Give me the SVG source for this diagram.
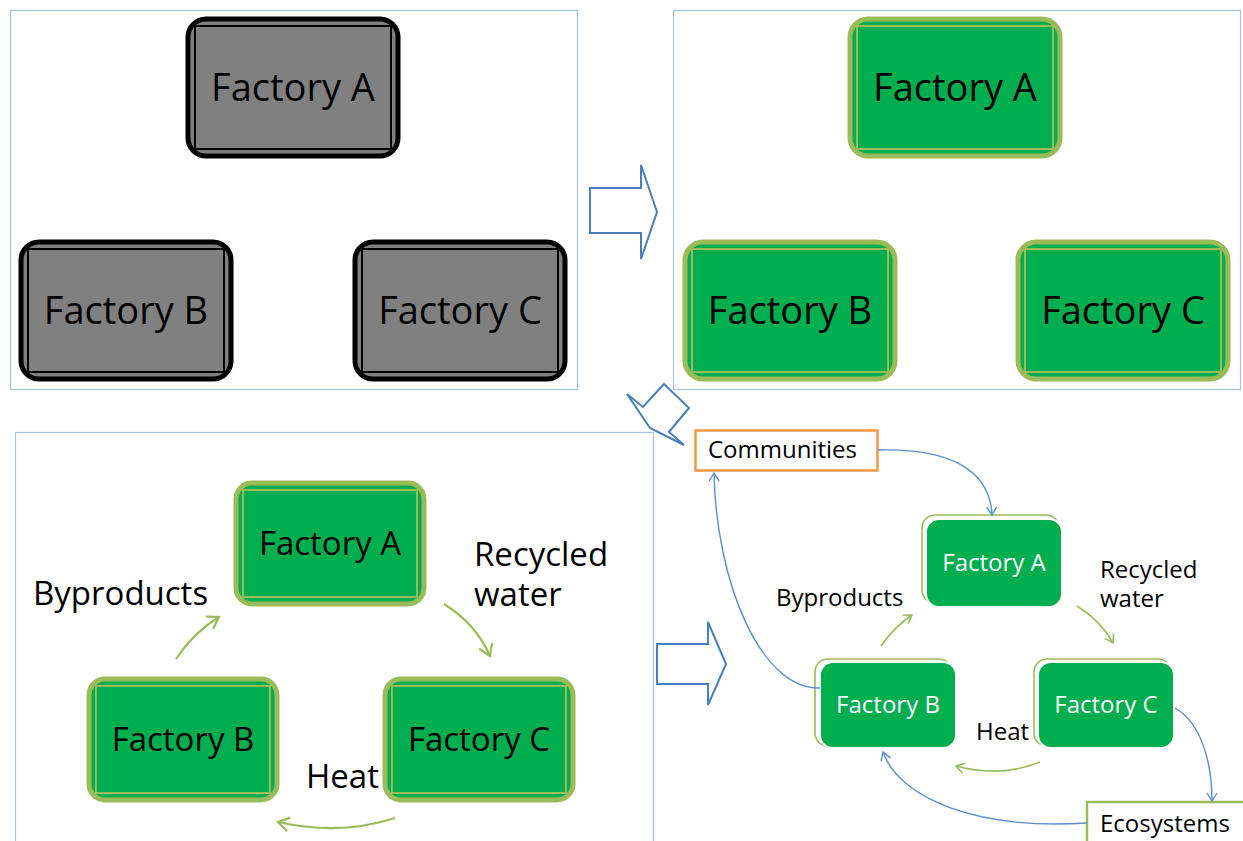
<svg xmlns="http://www.w3.org/2000/svg" width="1243" height="841" viewBox="0 0 1243 841">
  <style>
    .panel { fill: #ffffff; stroke: #a9bfe3; stroke-width: 1.2; }
    .gray-outer { fill: #808080; stroke: #000000; stroke-width: 5; }
    .gray-inner { fill: none; stroke: #000000; stroke-width: 2; }
    .green-outer { fill: #00ad4f; stroke: #9bbb59; stroke-width: 5; }
    .green-inner { fill: none; stroke: #9bbb59; stroke-width: 2; }
    .big { font-family: "Open Sans", "Liberation Sans", sans-serif; font-size: 38px; fill: #000000; text-anchor: middle; }
    .mid { font-family: "Open Sans", "Liberation Sans", sans-serif; font-size: 33px; fill: #000000; text-anchor: middle; }
    .lbl-mid { font-family: "Open Sans", "Liberation Sans", sans-serif; font-size: 33px; fill: #000000; }
    .small-node-shadow { fill: none; stroke: #9bbb59; stroke-width: 1.6; }
    .small-node { fill: #00ad4f; stroke: #ffffff; stroke-width: 2; }
    .small-txt { font-family: "Open Sans", "Liberation Sans", sans-serif; font-size: 24px; fill: #ffffff; text-anchor: middle; }
    .lbl-small { font-family: "Open Sans", "Liberation Sans", sans-serif; font-size: 24px; fill: #000000; }
    .block-arrow { fill: #ffffff; stroke: #4a7ebb; stroke-width: 2; stroke-linejoin: miter; }
    .blue { fill: none; stroke: #5b8ccc; stroke-width: 1.4; }
    .green-thin { fill: none; stroke: #9bbb59; stroke-width: 1.6; }
    .green-thick { fill: none; stroke: #9bbb59; stroke-width: 2.2; }
  </style>
  <defs>
    <marker id="arrow-blue" markerUnits="userSpaceOnUse" markerWidth="14" markerHeight="14" refX="0" refY="0" viewBox="-10 -7 12 14" orient="auto">
      <path d="M-8,-5 L0,0 L-8,5" fill="none" stroke="#5b8ccc" stroke-width="1.4"/>
    </marker>
    <marker id="arrow-green" markerUnits="userSpaceOnUse" markerWidth="14" markerHeight="14" refX="0" refY="0" viewBox="-10 -7 12 14" orient="auto">
      <path d="M-8,-5 L0,0 L-8,5" fill="none" stroke="#9bbb59" stroke-width="1.6"/>
    </marker>
    <marker id="arrow-green-big" markerUnits="userSpaceOnUse" markerWidth="18" markerHeight="18" refX="0" refY="0" viewBox="-13 -9 15 18" orient="auto">
      <path d="M-11,-7 L0,0 L-11,7" fill="none" stroke="#9bbb59" stroke-width="2.2"/>
    </marker>
  </defs>

  <!-- panels -->
  <g id="panels">
    <rect class="panel" x="10.5" y="10.5" width="567" height="379"/>
    <rect class="panel" x="673.5" y="10.5" width="567" height="379"/>
    <rect class="panel" x="15.5" y="432.5" width="638" height="420"/>
  </g>

  <!-- stage 1: separate factories -->
  <g id="s1-factory-a">
    <rect class="gray-outer" x="188" y="19" width="210" height="137" rx="18"/>
    <rect class="gray-inner" x="195" y="26" width="196" height="123"/>
    <text class="big" x="293" y="101">Factory A</text>
  </g>
  <g id="s1-factory-b">
    <rect class="gray-outer" x="21" y="242" width="210" height="137" rx="18"/>
    <rect class="gray-inner" x="28" y="249" width="196" height="123"/>
    <text class="big" x="126" y="324">Factory B</text>
  </g>
  <g id="s1-factory-c">
    <rect class="gray-outer" x="355" y="242" width="210" height="137" rx="18"/>
    <rect class="gray-inner" x="362" y="249" width="196" height="123"/>
    <text class="big" x="460" y="324">Factory C</text>
  </g>

  <!-- stage 2: green factories -->
  <g id="s2-factory-a">
    <rect class="green-outer" x="850" y="19" width="210" height="137" rx="18"/>
    <rect class="green-inner" x="857" y="26" width="196" height="123"/>
    <text class="big" x="955" y="101">Factory A</text>
  </g>
  <g id="s2-factory-b">
    <rect class="green-outer" x="685" y="242" width="210" height="137" rx="18"/>
    <rect class="green-inner" x="692" y="249" width="196" height="123"/>
    <text class="big" x="790" y="324">Factory B</text>
  </g>
  <g id="s2-factory-c">
    <rect class="green-outer" x="1018" y="242" width="210" height="137" rx="18"/>
    <rect class="green-inner" x="1025" y="249" width="196" height="123"/>
    <text class="big" x="1123" y="324">Factory C</text>
  </g>

  <!-- stage 3: exchange between factories -->
  <g id="s3-factory-a">
    <rect class="green-outer" x="236" y="483" width="188" height="121" rx="16"/>
    <rect class="green-inner" x="243" y="490" width="174" height="107"/>
    <text class="mid" x="330" y="555">Factory A</text>
  </g>
  <g id="s3-factory-b">
    <rect class="green-outer" x="89" y="679" width="188" height="121" rx="16"/>
    <rect class="green-inner" x="96" y="686" width="174" height="107"/>
    <text class="mid" x="183" y="751">Factory B</text>
  </g>
  <g id="s3-factory-c">
    <rect class="green-outer" x="385" y="679" width="188" height="121" rx="16"/>
    <rect class="green-inner" x="392" y="686" width="174" height="107"/>
    <text class="mid" x="479" y="751">Factory C</text>
  </g>
  <g id="s3-labels">
    <text class="lbl-mid" x="33" y="605">Byproducts</text>
    <text class="lbl-mid" x="474" y="566">Recycled<tspan x="474" dy="40">water</tspan></text>
    <text class="lbl-mid" x="306" y="788">Heat</text>
  </g>

  <!-- stage 4: factories with communities and ecosystems -->
  <g id="s4-communities">
    <rect x="695.5" y="430.5" width="182" height="40" fill="#ffffff" stroke="#f79646" stroke-width="2.5"/>
    <text class="lbl-small" x="708" y="458">Communities</text>
  </g>
  <g id="s4-factory-a">
    <rect class="small-node-shadow" x="922" y="515" width="137" height="88" rx="13"/>
    <rect class="small-node" x="926" y="519" width="136" height="88" rx="13"/>
    <text class="small-txt" x="994" y="571">Factory A</text>
  </g>
  <g id="s4-factory-b">
    <rect class="small-node-shadow" x="815" y="659" width="137" height="87" rx="13"/>
    <rect class="small-node" x="820" y="662" width="136" height="86" rx="13"/>
    <text class="small-txt" x="888" y="713">Factory B</text>
  </g>
  <g id="s4-factory-c">
    <rect class="small-node-shadow" x="1034" y="659" width="137" height="87" rx="13"/>
    <rect class="small-node" x="1038" y="662" width="136" height="86" rx="13"/>
    <text class="small-txt" x="1106" y="713">Factory C</text>
  </g>
  <g id="s4-ecosystems">
    <rect x="1087" y="802" width="170" height="60" fill="#ffffff" stroke="#9bbb59" stroke-width="2.5"/>
    <text class="lbl-small" x="1100" y="832">Ecosystems</text>
  </g>
  <g id="s4-labels">
    <text class="lbl-small" x="776" y="606">Byproducts</text>
    <text class="lbl-small" x="1100" y="578">Recycled<tspan x="1100" dy="29">water</tspan></text>
    <text class="lbl-small" x="976" y="740">Heat</text>
  </g>

  <!-- connectors -->
  <g id="connectors">
    <!-- block arrows between stages -->
    <polygon class="block-arrow" points="590,188 641,188 641,165 657,212 641,259 641,233 590,233"/>
    <polygon class="block-arrow" points="664,384 689,408 669,432 684,445 650,428 627,394 643,407"/>
    <polygon class="block-arrow" points="657,644 708,644 708,622 726,664 708,705 708,684 657,684"/>

    <!-- stage 3 flows -->
    <path class="green-thick" d="M176,659 Q194,632 219,617" marker-end="url(#arrow-green-big)"/>
    <path class="green-thick" d="M444,604 Q476,624 490,656" marker-end="url(#arrow-green-big)"/>
    <path class="green-thick" d="M395,818 Q340,836 278,822" marker-end="url(#arrow-green-big)"/>

    <!-- stage 4 flows between factories -->
    <path class="green-thin" d="M881,646 Q894,627 912,615" marker-end="url(#arrow-green)"/>
    <path class="green-thin" d="M1077,606 Q1101,621 1113,643" marker-end="url(#arrow-green)"/>
    <path class="green-thin" d="M1040,762 Q1000,778 956,766" marker-end="url(#arrow-green)"/>

    <!-- stage 4 flows with communities and ecosystems -->
    <path class="blue" d="M878,450 C950,448 990,470 992,515" marker-end="url(#arrow-blue)"/>
    <path class="blue" d="M820,688 C760,690 716,580 714,473" marker-end="url(#arrow-blue)"/>
    <path class="blue" d="M1175,708 C1200,722 1212,760 1212,801" marker-end="url(#arrow-blue)"/>
    <path class="blue" d="M1087,823 C980,830 900,800 883,752" marker-end="url(#arrow-blue)"/>
  </g>
</svg>
